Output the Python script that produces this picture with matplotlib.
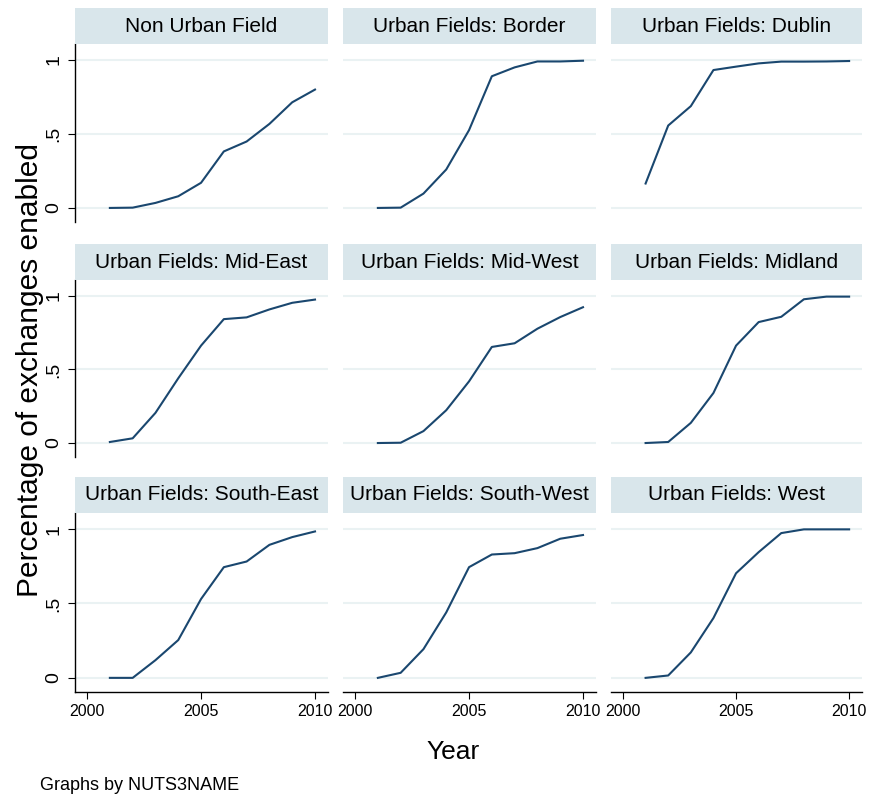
import matplotlib
matplotlib.use("Agg")
import matplotlib.pyplot as plt

plt.rcParams['font.family'] = ['Liberation Sans', 'DejaVu Sans']

years = [2001, 2002, 2003, 2004, 2005, 2006, 2007, 2008, 2009, 2010]

panels = [
    "Non Urban Field", "Urban Fields: Border", "Urban Fields: Dublin",
    "Urban Fields: Mid-East", "Urban Fields: Mid-West", "Urban Fields: Midland",
    "Urban Fields: South-East", "Urban Fields: South-West", "Urban Fields: West",
]

non_urban = [0.0, 0.002, 0.034, 0.079, 0.17, 0.382, 0.449, 0.568, 0.714, 0.80]
border = [0.0, 0.002, 0.097, 0.26, 0.526, 0.89, 0.95, 0.99, 0.99, 0.995]
dublin = [0.165, 0.557, 0.688, 0.932, 0.955, 0.977, 0.989, 0.989, 0.99, 0.993]
mid_east = [0.007, 0.032, 0.205, 0.44, 0.662, 0.842, 0.854, 0.908, 0.953, 0.975]
mid_west = [0.0, 0.002, 0.081, 0.223, 0.419, 0.653, 0.678, 0.777, 0.856, 0.923]
midland = [0.0, 0.007, 0.137, 0.34, 0.662, 0.822, 0.858, 0.977, 0.995, 0.995]
south_east = [0.0, 0.0, 0.119, 0.254, 0.53, 0.744, 0.782, 0.894, 0.946, 0.984]
south_west = [0.0, 0.034, 0.193, 0.44, 0.744, 0.829, 0.838, 0.872, 0.935, 0.96]
west = [0.0, 0.016, 0.171, 0.402, 0.703, 0.845, 0.973, 0.998, 0.998, 0.998]

series = [non_urban, border, dublin, mid_east, mid_west, midland,
          south_east, south_west, west]

W, H = 869, 797
fig = plt.figure(figsize=(W / 100, H / 100), dpi=100)

# pixel layout of the panels
col_x = [(75, 328), (343, 596), (611, 862)]
row_y = [(44, 222), (280, 457), (513, 692)]
strip_h = 36

line_col = "#1a476f"
grid_col = "#eaf2f3"
strip_col = "#d9e6eb"

for i, (name, vals) in enumerate(zip(panels, series)):
    r, c = divmod(i, 3)
    x0, x1 = col_x[c]
    y0, y1 = row_y[r]
    ax = fig.add_axes([x0 / W, 1 - y1 / H, (x1 - x0) / W, (y1 - y0) / H])
    ax.plot(years, vals, color=line_col, lw=1.5)
    ax.set_xlim(1999.47, 2010.57)
    ax.set_ylim(-0.095, 1.108)
    ax.set_yticks([0, 0.5, 1])
    ax.set_xticks([2000, 2005, 2010])
    ax.grid(axis="y", color=grid_col, lw=1.5)
    ax.set_axisbelow(True)
    for s in ["top", "right"]:
        ax.spines[s].set_visible(False)
    ax.spines["left"].set_visible(c == 0)
    ax.spines["bottom"].set_visible(r == 2)
    ax.spines["left"].set_linewidth(1.0)
    ax.spines["bottom"].set_linewidth(1.0)
    if c == 0:
        ax.set_yticklabels(["0", ".5", "1"], rotation=90, va="center", fontsize=14)
        ax.tick_params(axis="y", length=5, width=0.8, pad=4)
    else:
        ax.tick_params(axis="y", left=False, labelleft=False)
    if r == 2:
        ax.set_xticklabels(["2000", "2005", "2010"], fontsize=11.5)
        ax.tick_params(axis="x", length=5, width=0.8, pad=4)
    else:
        ax.tick_params(axis="x", bottom=False, labelbottom=False)

    sax = fig.add_axes([x0 / W, 1 - y0 / H, (x1 - x0) / W, strip_h / H])
    sax.set_facecolor(strip_col)
    sax.set_xticks([])
    sax.set_yticks([])
    for s in sax.spines.values():
        s.set_visible(False)
    sax.text(0.5, 0.5, name, ha="center", va="center", fontsize=15,
             transform=sax.transAxes)

fig.text(30 / W, 1 - 370 / H, "Percentage of exchanges enabled", rotation=90,
         ha="center", va="center", fontsize=21.5)
fig.text(453 / W, 1 - 752 / H, "Year", ha="center", va="center", fontsize=19)
fig.text(40 / W, 1 - 785 / H, "Graphs by NUTS3NAME", ha="left", va="center",
         fontsize=13)

fig.savefig("out.png", dpi=100)
